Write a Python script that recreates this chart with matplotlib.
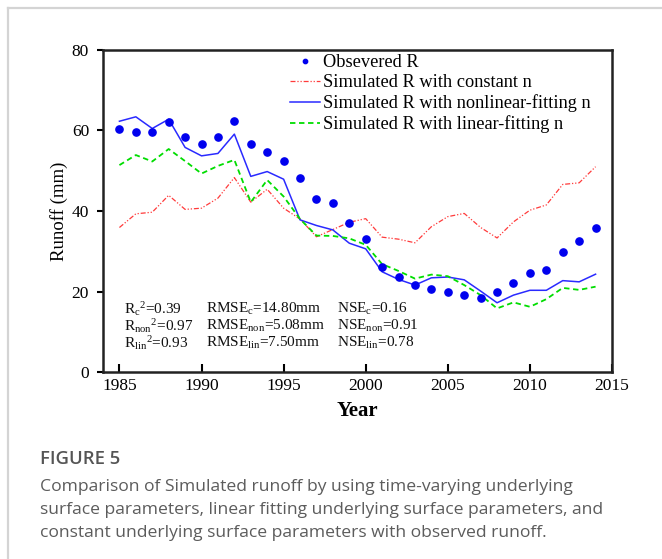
import matplotlib
matplotlib.use("Agg")
import matplotlib.pyplot as plt
from matplotlib.lines import Line2D

plt.rcParams['font.family'] = ['Liberation Serif', 'DejaVu Serif']
plt.rcParams['mathtext.fontset'] = 'custom'
plt.rcParams['mathtext.rm'] = 'Liberation Serif'
plt.rcParams['mathtext.it'] = 'Liberation Serif:italic'

years = list(range(1985, 2015))
observed = [60.4, 59.6, 59.6, 62.1, 58.3, 56.7, 58.5, 62.4, 56.7, 54.7,
            52.3, 48.1, 43.1, 41.9, 37.1, 33.0, 26.2, 23.5, 21.5, 20.5,
            19.8, 19.1, 18.4, 20.0, 22.2, 24.7, 25.4, 29.7, 32.5, 35.8]
sim_constant = [35.9, 39.3, 39.7, 43.9, 40.4, 40.7, 43.2, 48.3, 42.2, 45.4,
                40.7, 38.0, 33.6, 35.4, 37.2, 38.1, 33.5, 33.0, 32.1, 36.1,
                38.6, 39.4, 35.9, 33.3, 37.3, 40.2, 41.5, 46.6, 47.0, 51.0]
sim_nonlinear = [62.3, 63.4, 60.5, 62.8, 55.8, 53.7, 54.3, 59.1, 48.6, 49.8,
                 47.9, 37.8, 36.4, 35.3, 32.0, 30.6, 24.9, 23.0, 21.6, 23.4,
                 23.6, 22.9, 20.1, 17.2, 19.1, 20.3, 20.3, 22.7, 22.4, 24.3]
sim_linear = [51.4, 53.9, 52.3, 55.4, 52.4, 49.3, 51.2, 52.7, 42.2, 47.7,
              43.6, 38.0, 33.9, 33.8, 33.2, 31.6, 26.8, 25.1, 23.2, 24.2,
              23.8, 21.6, 19.1, 15.8, 17.3, 16.2, 18.1, 20.9, 20.4, 21.2]

legend_labels = ["Obsevered R", "Simulated R with constant n",
                 "Simulated R with nonlinear-fitting n",
                 "Simulated R with linear-fitting n"]
xticks = [1985, 1990, 1995, 2000, 2005, 2010, 2015]
yticks = [0, 20, 40, 60, 80]

W, H = 662, 559
fig = plt.figure(figsize=(W / 100, H / 100), dpi=100)

# panel border (top and left)
border = '#d4d4d4'
fig.add_artist(Line2D([8 / W, 8 / W], [0, 1 - 8 / H], transform=fig.transFigure,
                      color=border, lw=1.6))
fig.add_artist(Line2D([8 / W, 1], [1 - 8 / H, 1 - 8 / H], transform=fig.transFigure,
                      color=border, lw=1.6))

ax = fig.add_axes([103 / W, (H - 372) / H, (612 - 103) / W, (372 - 50) / H])

ax.plot(years, sim_constant, color='#ff3b3b', lw=0.9, linestyle=(0, (4, 1.5, 1, 1.5, 1, 1.5)),
        label=legend_labels[1], zorder=2)
ax.plot(years, sim_nonlinear, color='#2a2aff', lw=1.1, linestyle='-',
        label=legend_labels[2], zorder=3)
ax.plot(years, sim_linear, color='#00dd00', lw=1.3, linestyle=(0, (3, 2)),
        label=legend_labels[3], zorder=3)
ax.plot(years, observed, linestyle='none', marker='o', markersize=5.2,
        color='#0000ee', label=legend_labels[0], zorder=4)

ax.set_xlim(1984, 2015)
ax.set_ylim(0, 80)
ax.set_xticks(xticks)
ax.set_yticks(yticks)
ax.tick_params(axis='x', direction='in', length=6, width=1.5, labelsize=12.5, pad=4.5)
ax.tick_params(axis='y', direction='out', length=4, width=1.5, labelsize=12.5, pad=6)
for s in ax.spines.values():
    s.set_linewidth(1.8)
    s.set_color('#222222')

ax.set_xlabel('Year', fontsize=15, fontweight='bold', labelpad=5)
ax.set_ylabel('Runoff (mm)', fontsize=13.5, labelpad=3)

handles, labels = ax.get_legend_handles_labels()
order = [3, 0, 1, 2]
leg = ax.legend([handles[i] for i in order], [labels[i] for i in order],
                loc='upper left', bbox_to_anchor=((290 - 103) / (612 - 103), (372 - 54) / (372 - 50)),
                frameon=False, fontsize=13.2, handlelength=1.64, handletextpad=0.17,
                labelspacing=0.17, borderaxespad=0.0, borderpad=0.0, markerscale=0.6)

stats = [
    [r'R$_{\mathrm{c}}$$^{2}$=0.39', r'RMSE$_{\mathrm{c}}$=14.80mm', r'NSE$_{\mathrm{c}}$=0.16'],
    [r'R$_{\mathrm{non}}$$^{2}$=0.97', r'RMSE$_{\mathrm{non}}$=5.08mm', r'NSE$_{\mathrm{non}}$=0.91'],
    [r'R$_{\mathrm{lin}}$$^{2}$=0.93', r'RMSE$_{\mathrm{lin}}$=7.50mm', r'NSE$_{\mathrm{lin}}$=0.78'],
]
col_x = [124, 206, 337]
row_y = [309, 326, 343]
for r, row in enumerate(stats):
    for c, txt in enumerate(row):
        fig.text(col_x[c] / W, 1 - row_y[r] / H, txt, fontsize=11,
                 ha='left', va='center', color='#111111')

fig.text(40 / W, 1 - 459 / H, 'FIGURE 5', fontsize=13.3, family='Open Sans',
         fontweight='semibold', color='#555555', ha='left', va='center')
caption = ["Comparison of Simulated runoff by using time-varying underlying",
           "surface parameters, linear fitting underlying surface parameters, and",
           "constant underlying surface parameters with observed runoff."]
for i, line in enumerate(caption):
    fig.text(40 / W, 1 - (487 + 23 * i) / H, line, fontsize=12.6, family='Open Sans',
             color='#5c5c5c', ha='left', va='center')

fig.savefig('out.png', dpi=100)
